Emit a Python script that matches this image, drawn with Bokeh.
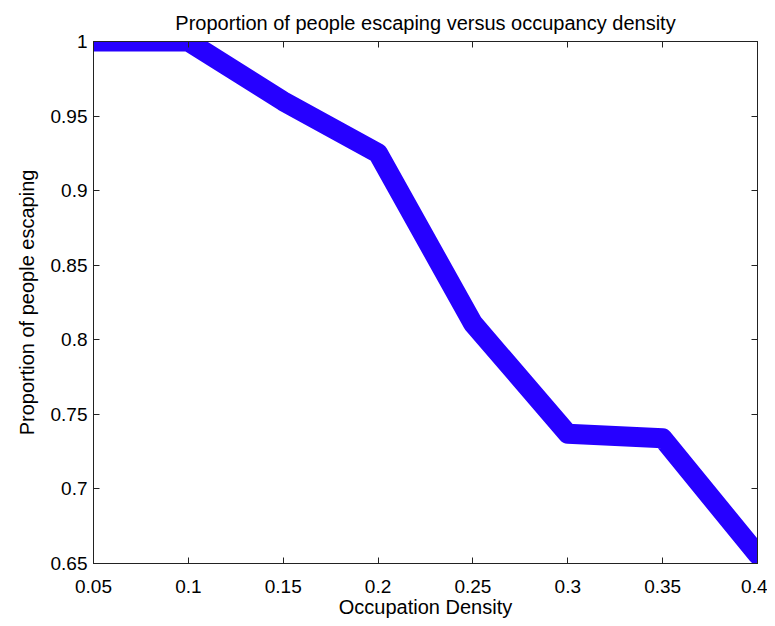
from bokeh.plotting import figure
from bokeh.models import LinearAxis, FixedTicker, CustomJSTickFormatter, Range1d
from bokeh.embed import file_html
from bokeh.resources import INLINE

density = [0.05, 0.10, 0.15, 0.20, 0.25, 0.30, 0.35, 0.40]
escaping = [1.0, 1.0, 0.960, 0.925, 0.811, 0.737, 0.734, 0.656]
x_ticks = [0.05, 0.1, 0.15, 0.2, 0.25, 0.3, 0.35, 0.4]
y_ticks = [0.65, 0.7, 0.75, 0.8, 0.85, 0.9, 0.95, 1.0]

FONT = "Liberation Sans"
TICK_FS = "19px"
LABEL_FS = "20px"

p = figure(
    frame_width=664, frame_height=522,
    x_range=Range1d(0.05, 0.4), y_range=Range1d(0.65, 1.0),
    output_backend="svg", toolbar_location=None,
    title="Proportion of people escaping versus occupancy density",
    min_border_left=93, min_border_right=10, min_border_top=41, min_border_bottom=55,
)
p.background_fill_color = "white"
p.border_fill_color = "white"
p.outline_line_color = "#222222"
p.outline_line_width = 1
p.xgrid.visible = False
p.ygrid.visible = False

p.title.align = "center"
p.title.text_font = FONT
p.title.text_font_size = "20px"
p.title.text_font_style = "normal"
p.title.text_color = "black"
p.title.standoff = 16

fmt = CustomJSTickFormatter(code="return tick.toFixed(2).replace(/0+$/,'').replace(/\\.$/,'');")
blank = CustomJSTickFormatter(code="return '';")

for ax, ticks in ((p.xaxis[0], x_ticks), (p.yaxis[0], y_ticks)):
    ax.ticker = FixedTicker(ticks=ticks)
    ax.formatter = fmt
    ax.major_tick_in = 6
    ax.major_tick_out = 0
    ax.minor_tick_in = 0
    ax.minor_tick_out = 0
    ax.axis_line_color = "#222222"
    ax.major_tick_line_color = "#222222"
    ax.major_label_text_font = FONT
    ax.major_label_text_font_size = TICK_FS
    ax.major_label_text_color = "black"
    ax.axis_label_text_font = FONT
    ax.axis_label_text_font_size = LABEL_FS
    ax.axis_label_text_font_style = "normal"
    ax.axis_label_text_color = "black"

p.xaxis[0].axis_label = "Occupation Density"
p.yaxis[0].axis_label = "Proportion of people escaping"
p.xaxis[0].major_label_standoff = 16
p.yaxis[0].major_label_standoff = 6
p.xaxis[0].axis_label_standoff = 0
p.yaxis[0].axis_label_standoff = 10

for loc, ticks in (("above", x_ticks), ("right", y_ticks)):
    ax2 = LinearAxis(ticker=FixedTicker(ticks=ticks), formatter=blank)
    ax2.major_label_standoff = 0
    ax2.major_tick_in = 6
    ax2.major_tick_out = 0
    ax2.minor_tick_in = 0
    ax2.minor_tick_out = 0
    ax2.axis_line_color = "#222222"
    ax2.major_tick_line_color = "#222222"
    p.add_layout(ax2, loc)

p.line(density, escaping, line_width=20, line_color="#2600FF",
       line_cap="round", line_join="round")

open("out.html", "w").write(file_html(p, INLINE))
